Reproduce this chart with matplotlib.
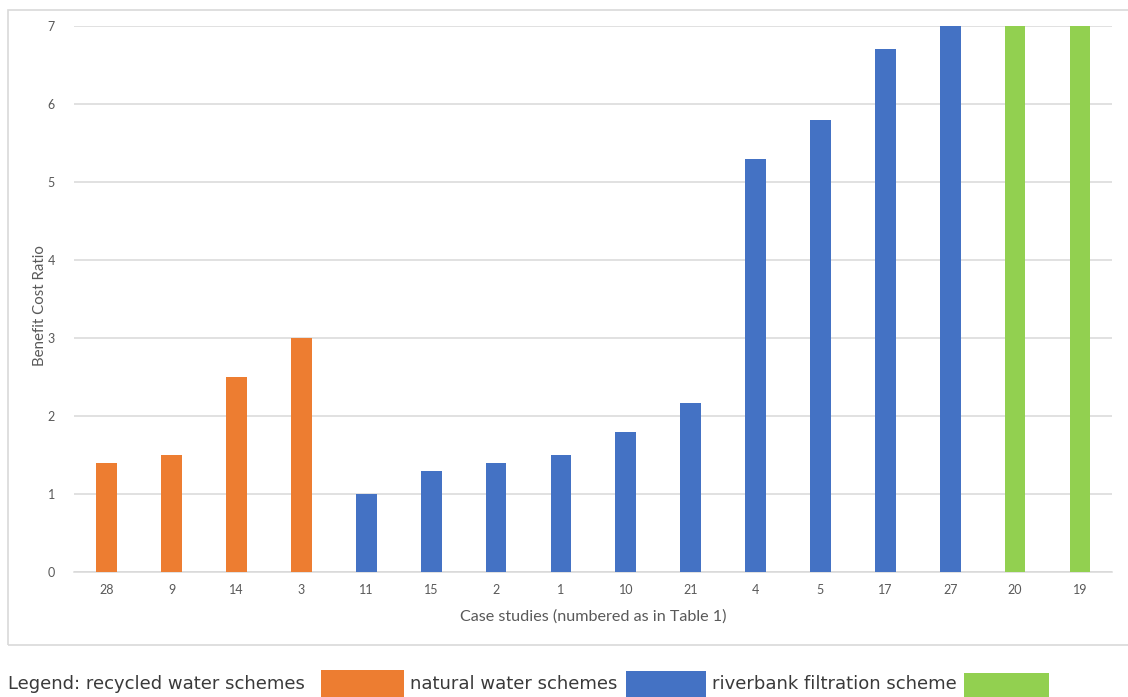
import matplotlib
matplotlib.use("Agg")
import matplotlib.pyplot as plt
from matplotlib.patches import Rectangle

# Benefit cost ratio per case study
case_ids = ["28", "9", "14", "3", "11", "15", "2", "1", "10", "21", "4", "5", "17", "27", "20", "19"]
bcr_values = [1.4, 1.5, 2.5, 3.0, 1.0, 1.3, 1.4, 1.5, 1.8, 2.17, 5.3, 5.8, 6.7, 7.0, 7.0, 7.0]
scheme_type = ["recycled"] * 4 + ["natural"] * 10 + ["riverbank"] * 2

scheme_colors = {"recycled": "#ED7D31", "natural": "#4472C4", "riverbank": "#92D050"}
legend_labels = ["Legend: recycled water schemes", "natural water schemes", "riverbank filtration scheme"]
y_ticks = [0, 1, 2, 3, 4, 5, 6, 7]

W, H = 1128, 697
fig = plt.figure(figsize=(W / 100, H / 100), dpi=100)
fig.patch.set_facecolor("white")

# chart frame
fig.add_artist(Rectangle((8 / W, 1 - 645 / H), (1140 - 8) / W, (645 - 10) / H,
                         transform=fig.transFigure, fill=False, edgecolor="#D9D9D9", linewidth=1.2))

ax = fig.add_axes([74.3 / W, 1 - 572 / H, (1112.4 - 74.3) / W, (572 - 26) / H])
x = range(len(case_ids))
ax.bar(x, bcr_values, width=0.32, color=[scheme_colors[s] for s in scheme_type], zorder=3)

ax.set_xlim(-0.5, len(case_ids) - 0.5)
ax.set_ylim(0, 7)
ax.set_yticks(y_ticks)
ax.set_xticks(list(x))
ax.set_xticklabels(case_ids)
ax.yaxis.grid(True, color="#D9D9D9", linewidth=1.1, zorder=0)
for side in ["top", "right", "left"]:
    ax.spines[side].set_visible(False)
ax.spines["bottom"].set_color("#D9D9D9")
ax.spines["bottom"].set_linewidth(1.1)
ax.tick_params(axis="both", length=0, colors="#595959", labelsize=9)
ax.tick_params(axis="x", pad=9)
ax.tick_params(axis="y", pad=14)
for lab in ax.get_xticklabels() + ax.get_yticklabels():
    lab.set_family("Lato")

fig.text(593 / W, 1 - 617 / H, "Case studies (numbered as in Table 1)", ha="center", va="center",
         fontsize=11.6, color="#595959", family="Lato")
fig.text(40 / W, 1 - 306 / H, "Benefit Cost Ratio", ha="center", va="center", rotation=90,
         fontsize=10.8, color="#595959", family="Lato")

# legend row below the chart
text_y = 1 - 689 / H
for xpos, label in zip([8, 410, 712], legend_labels):
    fig.text(xpos / W, text_y, label, ha="left", va="baseline", fontsize=12.95,
             color="#3a3a3a", family="DejaVu Sans")
for x0, x1, y0, key in [(321, 404, 670, "recycled"), (626, 706, 671, "natural"), (964, 1049, 673, "riverbank")]:
    fig.add_artist(Rectangle((x0 / W, 0), (x1 - x0) / W, (H - y0) / H, transform=fig.transFigure,
                             facecolor=scheme_colors[key], edgecolor="none"))

fig.savefig("out.png", dpi=100)
